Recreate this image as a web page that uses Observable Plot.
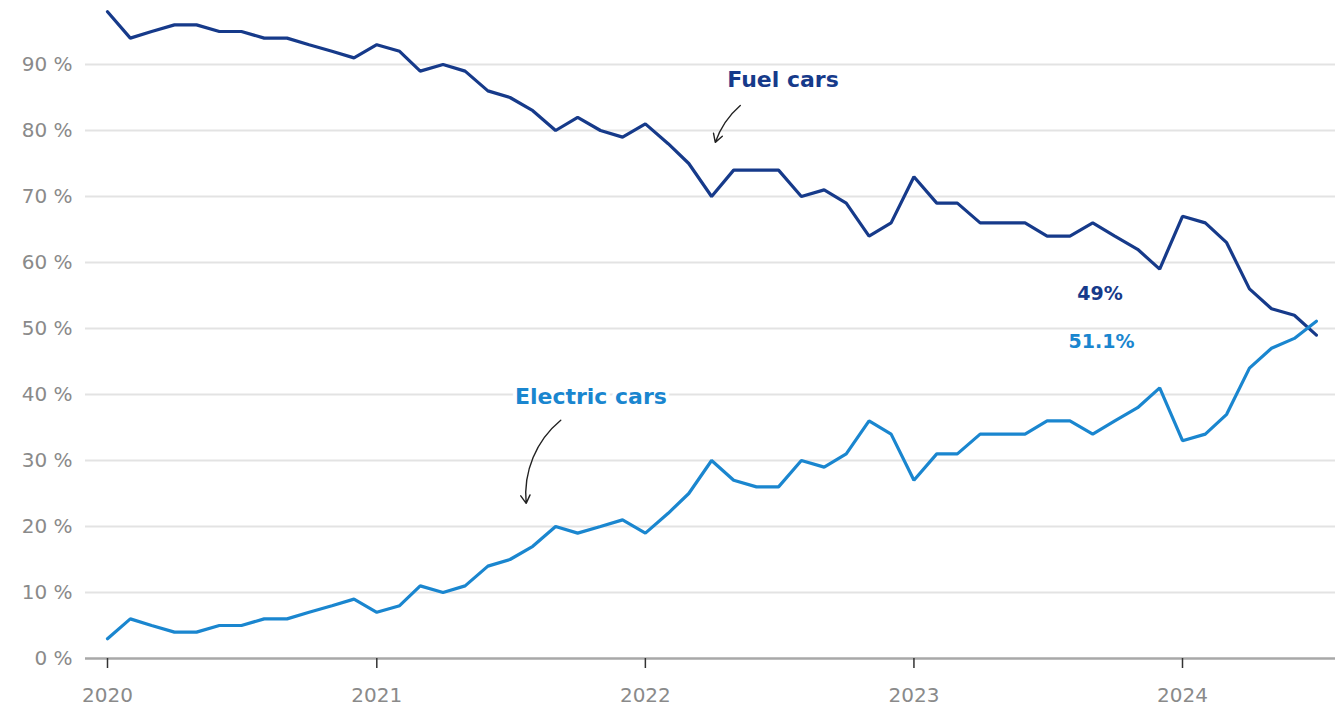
<!DOCTYPE html>
<html><head><meta charset="utf-8">
<script src="https://cdn.jsdelivr.net/npm/d3@7"></script>
<script src="https://cdn.jsdelivr.net/npm/@observablehq/plot@0.6"></script>
<style>body{margin:0;background:#fff;} #chart svg{display:block;}</style>
</head><body><div id="chart"></div>
<script>
const months = [
  "2020-01","2020-02","2020-03","2020-04","2020-05","2020-06","2020-07","2020-08","2020-09","2020-10","2020-11","2020-12",
  "2021-01","2021-02","2021-03","2021-04","2021-05","2021-06","2021-07","2021-08","2021-09","2021-10","2021-11","2021-12",
  "2022-01","2022-02","2022-03","2022-04","2022-05","2022-06","2022-07","2022-08","2022-09","2022-10","2022-11","2022-12",
  "2023-01","2023-02","2023-03","2023-04","2023-05","2023-06","2023-07","2023-08","2023-09","2023-10","2023-11","2023-12",
  "2024-01","2024-02","2024-03","2024-04","2024-05","2024-06","2024-07"
];
const fuel = [
  98,94,95,96,96,95,95,94,94,93,92,91,
  93,92,89,90,89,86,85,83,80,82,80,79,
  81,78,75,70,74,74,74,70,71,69,64,66,
  73,69,69,66,66,66,64,64,66,64,62,59,
  67,66,63,56,53,52,49
];
const electric = [
  3,6,5,4,4,5,5,6,6,7,8,9,
  7,8,11,10,11,14,15,17,20,19,20,21,
  19,22,25,30,27,26,26,30,29,31,36,34,
  27,31,31,34,34,34,36,36,34,36,38,41,
  33,34,37,44,47,48.5,51.1
];
const yTicks = [0,10,20,30,40,50,60,70,80,90];
const xTicks = ["2020-01","2021-01","2022-01","2023-01","2024-01"];

// annotation labels (data space)
const labelText = ["Fuel cars","Electric cars","49%","51.1%"];
const labelDate = ["2022-07-07","2021-10-19","2023-09-11","2023-09-13"];
const labelValue = [87.6, 39.7, 55.2, 48.0];
const labelColor = ["#163a8a","#1a86cf","#163a8a","#1a86cf"];
const labelSize = [22, 22, 19, 19];

// arrows (data space)
const arrowFromDate = ["2022-05-10","2021-09-08"];
const arrowFromValue = [83.8, 36.1];
const arrowToDate = ["2022-04-06","2021-07-23"];
const arrowToValue = [78.2, 23.5];
const arrowBend = [-15, -28];

const pm = d3.utcParse("%Y-%m");
const pd = d3.utcParse("%Y-%m-%d");

const rows = [];
months.forEach((m,i)=>{
  rows.push({date: pm(m), value: fuel[i], series: "Fuel cars"});
});
months.forEach((m,i)=>{
  rows.push({date: pm(m), value: electric[i], series: "Electric cars"});
});
const labels = labelText.map((t,i)=>({text:t, date: pd(labelDate[i]), value: labelValue[i], color: labelColor[i], size: labelSize[i]}));
const arrows = arrowFromDate.map((d,i)=>({x1: pd(d), y1: arrowFromValue[i], x2: pd(arrowToDate[i]), y2: arrowToValue[i], bend: arrowBend[i]}));

const font = "'DejaVu Sans', 'Open Sans', sans-serif";

const chart = Plot.plot({
  width: 1344,
  height: 710,
  marginLeft: 85,
  marginRight: 9,
  marginTop: 0,
  marginBottom: 52,
  style: {fontFamily: font, background: "#fff"},
  x: {type: "utc", domain: [pm("2020-01"), pm("2024-01")], range: [107, 1182]},
  y: {domain: [0, 90], range: [658, 64]},
  marks: [
    Plot.ruleY(yTicks.filter(d => d > 0), {stroke: "#e3e3e3", strokeWidth: 2}),
    Plot.ruleY([0], {stroke: "#a8a8a8", strokeWidth: 2.5}),
    Plot.axisY({ticks: yTicks, tickFormat: d => d + " %", tickSize: 0, tickPadding: 13, fontSize: 20, fontWeight: "normal", fill: "#8a8a8a", label: null}),
    Plot.axisX({ticks: xTicks.map(pm), tickFormat: "%Y", tickSize: 10, tickPadding: 19, fontSize: 20, fontWeight: "normal", fill: "#8a8a8a", stroke: "#333", strokeWidth: 1.5, label: null}),
    Plot.line(rows.filter(d => d.series === "Fuel cars"), {x: "date", y: "value", stroke: "#163a8a", strokeWidth: 3.2, strokeLinejoin: "miter"}),
    Plot.line(rows.filter(d => d.series === "Electric cars"), {x: "date", y: "value", stroke: "#1a86cf", strokeWidth: 3.2, strokeLinejoin: "miter"}),
    Plot.text(labels.filter(d => d.size === 22), {x: "date", y: "value", text: "text", fill: d => d.color, fontSize: 22, fontWeight: "bold", stroke: "white", strokeWidth: 8, paintOrder: "stroke"}),
    Plot.text(labels.filter(d => d.size === 19), {x: "date", y: "value", text: "text", fill: d => d.color, fontSize: 19, fontWeight: "bold", stroke: "white", strokeWidth: 8, paintOrder: "stroke"}),
    Plot.arrow(arrows.slice(0,1), {x1: "x1", y1: "y1", x2: "x2", y2: "y2", bend: arrowBend[0], stroke: "#222", strokeWidth: 1.4, headLength: 10}),
    Plot.arrow(arrows.slice(1,2), {x1: "x1", y1: "y1", x2: "x2", y2: "y2", bend: arrowBend[1], stroke: "#222", strokeWidth: 1.4, headLength: 10})
  ]
});
document.getElementById("chart").appendChild(chart);
</script>
</body></html>
